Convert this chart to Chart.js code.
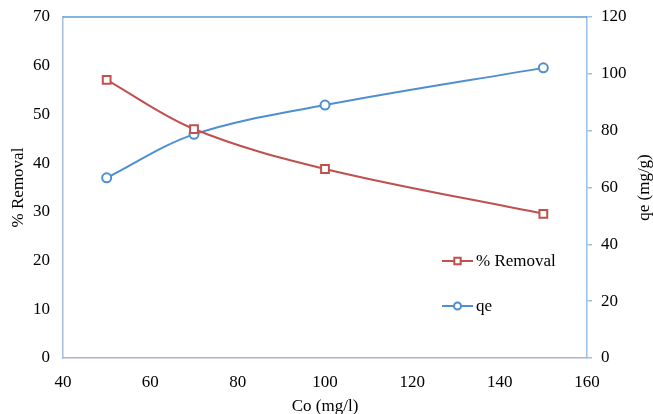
<!DOCTYPE html>
<html>
<head>
<meta charset="utf-8">
<script src="https://cdn.jsdelivr.net/npm/chart.js@4/dist/chart.umd.min.js"></script>
<style>
    html, body { margin: 0; padding: 0; background: #ffffff; }
    #wrap { width: 653px; height: 414px; }
</style>
</head>
<body>
<div id="wrap"><canvas id="chart" width="653" height="414"></canvas></div>
<script>
// Initial concentration (mg/l)
const concentrations = [50, 70, 100, 150];
// % removal (left axis)
const removal = [57.1, 47.0, 38.8, 29.6];
// qe in mg/g (right axis)
const qe = [63.4, 78.7, 89.0, 102.1];

const leftTicks = [0, 10, 20, 30, 40, 50, 60, 70];
const rightTicks = [0, 20, 40, 60, 80, 100, 120];
const xTicks = [40, 60, 80, 100, 120, 140, 160];

const RED = '#c0504d';
const BLUE = '#4f8fd0';
const FONT = '"Liberation Serif", "Times New Roman", serif';
const FONT_SIZE = 17;

const toPoints = (xs, ys) => xs.map((x, i) => ({ x: x, y: ys[i] }));

// fixed scale sizes, no extra room for label overhang
const fixY = w => s => { s.width = w; s.paddingTop = 0; s.paddingBottom = 0; };
const fixX = h => s => { s.height = h; s.paddingLeft = 0; s.paddingRight = 0; };

// Frame top line, right-axis title and the in-plot legend
const extrasPlugin = {
    id: 'extras',
    afterDraw(chart) {
        const ctx = chart.ctx;
        const area = chart.chartArea;

        ctx.save();
        ctx.strokeStyle = '#5b9bd5';
        ctx.lineWidth = 1.5;
        ctx.beginPath();
        ctx.moveTo(area.left, area.top);
        ctx.lineTo(area.right, area.top);
        ctx.stroke();

        // right axis title reads bottom-to-top like the left one
        ctx.fillStyle = '#000000';
        ctx.font = FONT_SIZE + 'px ' + FONT;
        ctx.textAlign = 'center';
        ctx.textBaseline = 'middle';
        ctx.translate(645, (area.top + area.bottom) / 2);
        ctx.rotate(-Math.PI / 2);
        ctx.fillText('qe (mg/g)', 0, 0);
        ctx.restore();

        // legend
        const entries = [
            { y: 261, ds: chart.data.datasets[0] },
            { y: 306, ds: chart.data.datasets[1] }
        ];
        entries.forEach(e => {
            ctx.save();
            ctx.strokeStyle = e.ds.borderColor;
            ctx.fillStyle = '#ffffff';
            ctx.lineWidth = 2;
            ctx.beginPath();
            ctx.moveTo(442, e.y);
            ctx.lineTo(473, e.y);
            ctx.stroke();
            Chart.helpers.drawPoint(ctx, {
                pointStyle: e.ds.pointStyle,
                radius: e.ds.pointRadius - 1,
                borderWidth: 2
            }, 457.5, e.y);
            ctx.fillStyle = '#000000';
            ctx.font = FONT_SIZE + 'px ' + FONT;
            ctx.textAlign = 'left';
            ctx.textBaseline = 'middle';
            ctx.fillText(e.ds.label, 476, e.y + 1);
            ctx.restore();
        });
    }
};

const ctx = document.getElementById('chart');

new Chart(ctx, {
    type: 'line',
    data: {
        datasets: [{
            label: '% Removal',
            data: toPoints(concentrations, removal),
            yAxisID: 'y',
            borderColor: RED,
            backgroundColor: '#ffffff',
            borderWidth: 2,
            tension: 0.35,
            pointStyle: 'rect',
            pointRadius: 5.5,
            pointBorderColor: RED,
            pointBackgroundColor: '#ffffff',
            pointBorderWidth: 2
        }, {
            label: 'qe',
            data: toPoints(concentrations, qe),
            yAxisID: 'y2',
            borderColor: BLUE,
            backgroundColor: '#ffffff',
            borderWidth: 2,
            tension: 0.35,
            pointStyle: 'circle',
            pointRadius: 4.5,
            pointBorderColor: BLUE,
            pointBackgroundColor: '#ffffff',
            pointBorderWidth: 2
        }]
    },
    options: {
        responsive: false,
        animation: false,
        layout: {
            padding: { top: 17, right: 0, bottom: 0, left: 0 }
        },
        plugins: {
            legend: { display: false },
            tooltip: { enabled: false }
        },
        scales: {
            x: {
                type: 'linear',
                min: xTicks[0],
                max: xTicks[xTicks.length - 1],
                afterBuildTicks: s => { s.ticks = xTicks.map(v => ({ value: v })); },
                afterFit: fixX(56),
                grid: { display: false, drawTicks: false },
                border: { display: true, color: '#a9b4c4', width: 1.5 },
                ticks: { color: '#000000', padding: 14, font: { family: FONT, size: FONT_SIZE } },
                title: {
                    display: true,
                    text: 'Co (mg/l)',
                    color: '#000000',
                    padding: { top: 0, bottom: -3 },
                    font: { family: FONT, size: FONT_SIZE }
                }
            },
            y: {
                type: 'linear',
                position: 'left',
                min: leftTicks[0],
                max: leftTicks[leftTicks.length - 1],
                afterBuildTicks: s => { s.ticks = leftTicks.map(v => ({ value: v })); },
                afterFit: fixY(63),
                grid: { display: false, drawTicks: false },
                border: { display: true, color: '#a6bcd9', width: 1.5 },
                ticks: { color: '#000000', padding: 13, font: { family: FONT, size: FONT_SIZE } },
                title: {
                    display: true,
                    text: '% Removal',
                    color: '#000000',
                    padding: { top: 8, bottom: 0 },
                    font: { family: FONT, size: FONT_SIZE }
                }
            },
            y2: {
                type: 'linear',
                position: 'right',
                min: rightTicks[0],
                max: rightTicks[rightTicks.length - 1],
                afterBuildTicks: s => { s.ticks = rightTicks.map(v => ({ value: v })); },
                afterFit: fixY(66),
                grid: {
                    display: true,
                    drawOnChartArea: false,
                    drawTicks: true,
                    tickLength: 5,
                    color: '#9cc0e6',
                    lineWidth: 1.5
                },
                border: { display: true, color: '#9cc0e6', width: 1.5 },
                ticks: { color: '#000000', padding: 9, font: { family: FONT, size: FONT_SIZE } }
            }
        }
    },
    plugins: [extrasPlugin]
});
</script>
</body>
</html>
